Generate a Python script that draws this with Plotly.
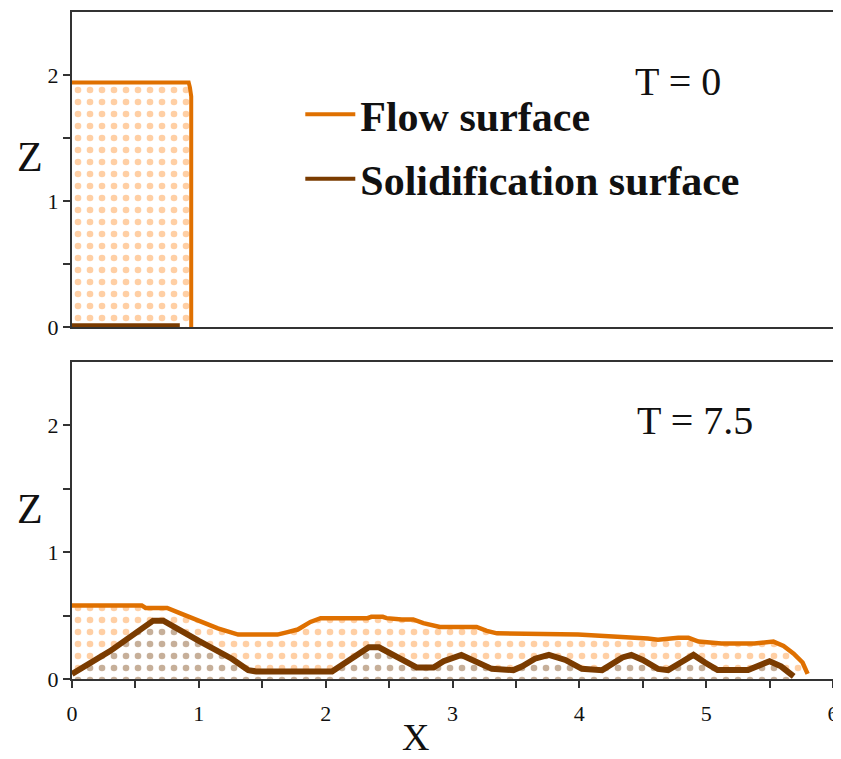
import plotly.graph_objects as go

# ---------------- data ----------------
# T = 0 panel
flow_x_t0 = [0.0, 0.92, 0.93, 0.94, 0.94]
flow_z_t0 = [1.94, 1.94, 1.90, 1.83, 0.0]
solid_x_t0 = [0.0, 0.85]
solid_z_t0 = [0.015, 0.015]

# T = 7.5 panel
flow_x_t75 = [0.0, 0.55, 0.58, 0.75, 0.85, 1.00, 1.15, 1.31, 1.62, 1.70, 1.78, 1.88, 1.96,
              2.33, 2.36, 2.45, 2.48, 2.60, 2.69, 2.77, 2.90, 3.19, 3.27, 3.35, 3.99,
              4.54, 4.62, 4.78, 4.86, 4.94, 5.12, 5.38, 5.53, 5.61, 5.69, 5.76, 5.80]
flow_z_t75 = [0.58, 0.58, 0.56, 0.56, 0.52, 0.46, 0.40, 0.35, 0.35, 0.37, 0.39, 0.45, 0.48,
              0.48, 0.49, 0.49, 0.48, 0.47, 0.47, 0.44, 0.41, 0.41, 0.38, 0.36, 0.35,
              0.32, 0.31, 0.325, 0.325, 0.295, 0.28, 0.28, 0.295, 0.26, 0.20, 0.13, 0.04]
solid_x_t75 = [0.0, 0.30, 0.64, 0.72, 1.00, 1.26, 1.39, 1.45, 2.05, 2.20, 2.34, 2.42, 2.56,
               2.72, 2.85, 2.93, 3.07, 3.21, 3.31, 3.48, 3.55, 3.65, 3.76, 3.89, 4.02,
               4.18, 4.23, 4.34, 4.41, 4.50, 4.62, 4.70, 4.80, 4.90, 4.99, 5.09, 5.33,
               5.44, 5.50, 5.59, 5.69]
solid_z_t75 = [0.04, 0.22, 0.46, 0.46, 0.30, 0.16, 0.07, 0.06, 0.06, 0.16, 0.25, 0.25, 0.18,
               0.09, 0.09, 0.14, 0.19, 0.13, 0.08, 0.07, 0.10, 0.16, 0.19, 0.15, 0.08,
               0.07, 0.10, 0.17, 0.19, 0.15, 0.08, 0.07, 0.13, 0.19, 0.13, 0.07, 0.07,
               0.12, 0.14, 0.10, 0.02]

x_tickvals = [0, 0.5, 1, 1.5, 2, 2.5, 3, 3.5, 4, 4.5, 5, 5.5, 6]
x_ticktext = ["0", "", "1", "", "2", "", "3", "", "4", "", "5", "", "6"]
z_tickvals = [0, 0.5, 1, 1.5, 2]
z_ticktext = ["0", "", "1", "", "2"]

series_names = ["Flow surface", "Solidification surface"]
time_labels = ["T = 0", "T = 7.5"]

# ---------------- style ----------------
FLOW = "#DF7000"
SOLID = "#7A3B00"
DOT_O = "#FFA04A"
DOT_B = "#8E5F34"
AXC = "#333333"
SERIF = "Liberation Serif, Times New Roman, serif"

fig = go.Figure()

pat_o = dict(shape=".", fgcolor=DOT_O, bgcolor="rgba(255,255,255,0)", size=12, solidity=0.24)
pat_b = dict(shape=".", fgcolor=DOT_B, bgcolor="white", size=12, solidity=0.24)

# top panel
fig.add_trace(go.Scatter(x=flow_x_t0, y=flow_z_t0, mode="lines", xaxis="x", yaxis="y",
                         line=dict(color=FLOW, width=4), fill="tozeroy",
                         fillcolor="rgba(0,0,0,0)", fillpattern=pat_o, showlegend=False))
fig.add_trace(go.Scatter(x=solid_x_t0, y=solid_z_t0, mode="lines", xaxis="x", yaxis="y",
                         line=dict(color=SOLID, width=4), showlegend=False))

# bottom panel
fig.add_trace(go.Scatter(x=solid_x_t75, y=solid_z_t75, mode="lines", xaxis="x2", yaxis="y2",
                         line=dict(color=SOLID, width=6), fill="tozeroy",
                         fillcolor="rgba(0,0,0,0)", fillpattern=pat_b, showlegend=False))
fig.add_trace(go.Scatter(x=flow_x_t75, y=flow_z_t75, mode="lines", xaxis="x2", yaxis="y2",
                         line=dict(color=FLOW, width=4.5), fill="tonexty",
                         fillcolor="rgba(0,0,0,0)", fillpattern=pat_o, showlegend=False))

# legend-only entries
for nm, col, grp in [(series_names[0], FLOW, "a"), (series_names[1], SOLID, "b")]:
    fig.add_trace(go.Scatter(x=[None], y=[None], mode="lines", name=nm, legendgroup=grp,
                             line=dict(color=col, width=4), xaxis="x", yaxis="y"))

axis_common = dict(showline=True, linecolor=AXC, linewidth=2, mirror=True,
                   showgrid=False, zeroline=False,
                   tickfont=dict(family=SERIF, size=22, color="#111"))

fig.update_layout(
    width=833, height=751,
    margin=dict(l=64, r=2, t=4, b=80),
    paper_bgcolor="white", plot_bgcolor="white",
    xaxis=dict(domain=[0, 1], range=[0, 6], anchor="y", showticklabels=False, ticks="",
               **axis_common),
    yaxis=dict(domain=[0.5277, 1.0], range=[0, 2.5], anchor="x", ticks="outside", ticklen=7,
               tickwidth=2, tickcolor=AXC, tickvals=z_tickvals, ticktext=z_ticktext,
               **axis_common),
    xaxis2=dict(domain=[0, 1], range=[0, 6], anchor="y2", ticks="outside", ticklen=7,
                tickwidth=2, tickcolor=AXC, tickvals=x_tickvals, ticktext=x_ticktext,
                ticklabelstandoff=7, ticklabeloverflow="allow", **axis_common),
    yaxis2=dict(domain=[0, 0.4753], range=[0, 2.5], anchor="x2", ticks="outside", ticklen=7,
                tickwidth=2, tickcolor=AXC, tickvals=z_tickvals, ticktext=z_ticktext,
                **axis_common),
    legend=dict(x=0.300, y=0.8975, xanchor="left", yanchor="top", bgcolor="rgba(0,0,0,0)",
                font=dict(family=SERIF, size=42, color="#111", weight="bold"),
                traceorder="grouped", tracegroupgap=7, itemwidth=50),
    annotations=[
        dict(text=time_labels[0], x=4.78, y=1.95, xref="x", yref="y", showarrow=False,
             xanchor="center", font=dict(family=SERIF, size=40, color="#111")),
        dict(text=time_labels[1], x=4.91, y=2.04, xref="x2", yref="y2", showarrow=False,
             xanchor="center", font=dict(family=SERIF, size=40, color="#111")),
        dict(text="Z", x=-0.055, y=1.35, xref="paper", yref="y", showarrow=False,
             xanchor="center", font=dict(family=SERIF, size=42, color="#111")),
        dict(text="Z", x=-0.055, y=1.34, xref="paper", yref="y2", showarrow=False,
             xanchor="center", font=dict(family=SERIF, size=42, color="#111")),
        dict(text="X", x=2.71, y=-0.087, xref="x2", yref="paper", showarrow=False,
             xanchor="center", yanchor="middle",
             font=dict(family=SERIF, size=38, color="#111")),
    ],
)

fig.write_html("out.html")
